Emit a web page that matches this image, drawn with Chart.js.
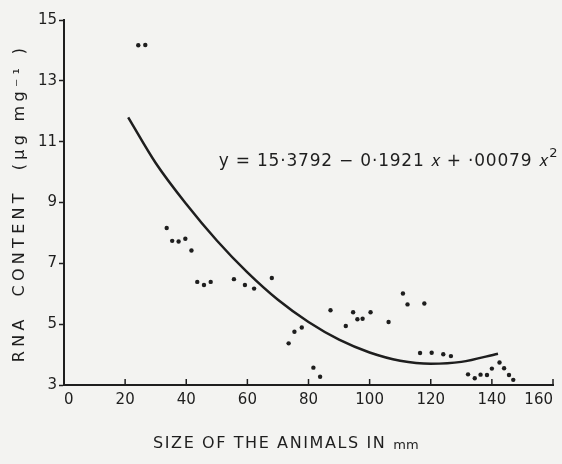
<!DOCTYPE html>
<html>
<head>
<meta charset="utf-8">
<script src="https://cdn.jsdelivr.net/npm/chart.js@4/dist/chart.umd.min.js"></script>
<style>
  html, body { margin: 0; padding: 0; background: #f3f3f1; }
  #wrap { width: 562px; height: 464px; }
</style>
</head>
<body>
<div id="wrap"><canvas id="c" width="562" height="464"></canvas></div>
<script>
// observed animals: size (mm) and RNA content (ug/mg)
const sizeMm = [24.3, 26.6,
  33.6, 35.4, 37.5, 39.7, 41.7, 43.6, 45.8, 48.0, 55.6, 59.2, 62.2, 68.0,
  73.5, 75.4, 77.8, 81.6, 83.8, 87.2, 92.2, 94.6, 96.0, 97.7, 100.3, 106.2,
  110.9, 112.4, 117.9, 116.5, 120.3, 124.1, 126.6,
  132.2, 134.4, 136.3, 138.4, 140.0, 142.5, 144.0, 145.6, 147.0];
const rnaContent = [14.17, 14.18,
  8.16, 7.74, 7.72, 7.81, 7.42, 6.39, 6.29, 6.39, 6.48, 6.29, 6.17, 6.52,
  4.37, 4.75, 4.89, 3.57, 3.27, 5.46, 4.94, 5.39, 5.16, 5.18, 5.39, 5.07,
  6.01, 5.65, 5.68, 4.05, 4.06, 4.01, 3.95,
  3.35, 3.22, 3.34, 3.33, 3.54, 3.74, 3.55, 3.33, 3.17];

// fitted curve as drawn
const curveX = [21, 30, 40, 50, 60, 70, 80, 90, 100, 110, 120, 130, 142];
const curveY = [11.8, 10.3, 8.95, 7.75, 6.7, 5.8, 5.07, 4.49, 4.07, 3.8, 3.7, 3.76, 4.03];

const xTicks = [0, 20, 40, 60, 80, 100, 120, 140, 160];
const yTicks = [3, 5, 7, 9, 11, 13, 15];

const equation = "y = 15\u00b73792 \u2212 0\u00b71921 \ud835\udc65 + \u00b700079 \ud835\udc65";
const xTitle = "SIZE OF THE ANIMALS IN";
const yTitle = "RNA  CONTENT  (\u03bcg mg\u207b\u00b9 )";

const INK = "#1e1e1e";
const FONT = "'DejaVu Sans', sans-serif";

const extras = {
  id: "extras",
  afterDraw(chart) {
    const ctx = chart.ctx;
    const xs = chart.scales.x, ys = chart.scales.y;
    ctx.save();
    ctx.fillStyle = INK;
    ctx.strokeStyle = INK;

    // inward x ticks
    ctx.lineWidth = 1.5;
    xTicks.forEach(v => {
      const px = xs.getPixelForValue(v);
      ctx.beginPath();
      ctx.moveTo(px, ys.bottom);
      ctx.lineTo(px, ys.bottom - 6);
      ctx.stroke();
    });

    // equation
    ctx.font = "17px " + FONT;
    ctx.letterSpacing = "0.8px";
    ctx.textBaseline = "alphabetic";
    ctx.textAlign = "left";
    const ex = xs.getPixelForValue(50.6), ey = ys.getPixelForValue(10.2);
    ctx.fillText(equation, ex, ey);
    const w = ctx.measureText(equation).width;
    ctx.font = "13px " + FONT;
    ctx.fillText("2", ex + w + 1, ey - 9);

    // x title
    ctx.font = "16px " + FONT;
    ctx.letterSpacing = "1.6px";
    ctx.fillText(xTitle, 153, 448);
    const tw = ctx.measureText(xTitle).width;
    ctx.font = "13px " + FONT;
    ctx.letterSpacing = "0px";
    ctx.fillText("mm", 153 + tw + 7, 449);

    // y title
    ctx.translate(24, 203);
    ctx.rotate(-Math.PI / 2);
    ctx.textAlign = "center";
    ctx.font = "16px " + FONT;
    ctx.letterSpacing = "4.3px";
    ctx.fillText(yTitle, 0, 0);
    ctx.restore();
  }
};

new Chart(document.getElementById("c"), {
  type: "scatter",
  data: {
    datasets: [{
      label: "observed",
      data: sizeMm.map((x, i) => ({ x, y: rnaContent[i] })),
      backgroundColor: INK,
      borderColor: INK,
      pointRadius: 2.2,
      pointBorderWidth: 0
    }, {
      label: "fit",
      type: "line",
      data: curveX.map((x, i) => ({ x, y: curveY[i] })),
      borderColor: INK,
      borderWidth: 2.5,
      pointRadius: 0,
      fill: false,
      cubicInterpolationMode: "monotone"
    }]
  },
  options: {
    animation: false,
    responsive: false,
    layout: { autoPadding: false, padding: { top: 20, right: 9, left: 0, bottom: 0 } },
    plugins: { legend: { display: false }, tooltip: { enabled: false } },
    scales: {
      x: {
        type: "linear",
        min: 0, max: 160,
        afterBuildTicks: s => { s.ticks = xTicks.map(v => ({ value: v })); },
        afterFit: s => { s.height = 79; s.paddingLeft = 0; s.paddingRight = 0; },
        grid: { display: false, drawTicks: false },
        border: { color: INK, width: 2 },
        ticks: { color: INK, font: { family: FONT, size: 15 }, padding: 6, align: "inner" }
      },
      y: {
        min: 3, max: 15,
        afterBuildTicks: s => { s.ticks = yTicks.map(v => ({ value: v })); },
        afterFit: s => { s.width = 64; s.paddingTop = 0; s.paddingBottom = 0; },
        grid: { drawOnChartArea: false, tickLength: 5, color: INK, tickWidth: 1.5 },
        border: { color: INK, width: 2 },
        ticks: { color: INK, font: { family: FONT, size: 15 }, padding: 2 }
      }
    }
  },
  plugins: [extras]
});
</script>
</body>
</html>
